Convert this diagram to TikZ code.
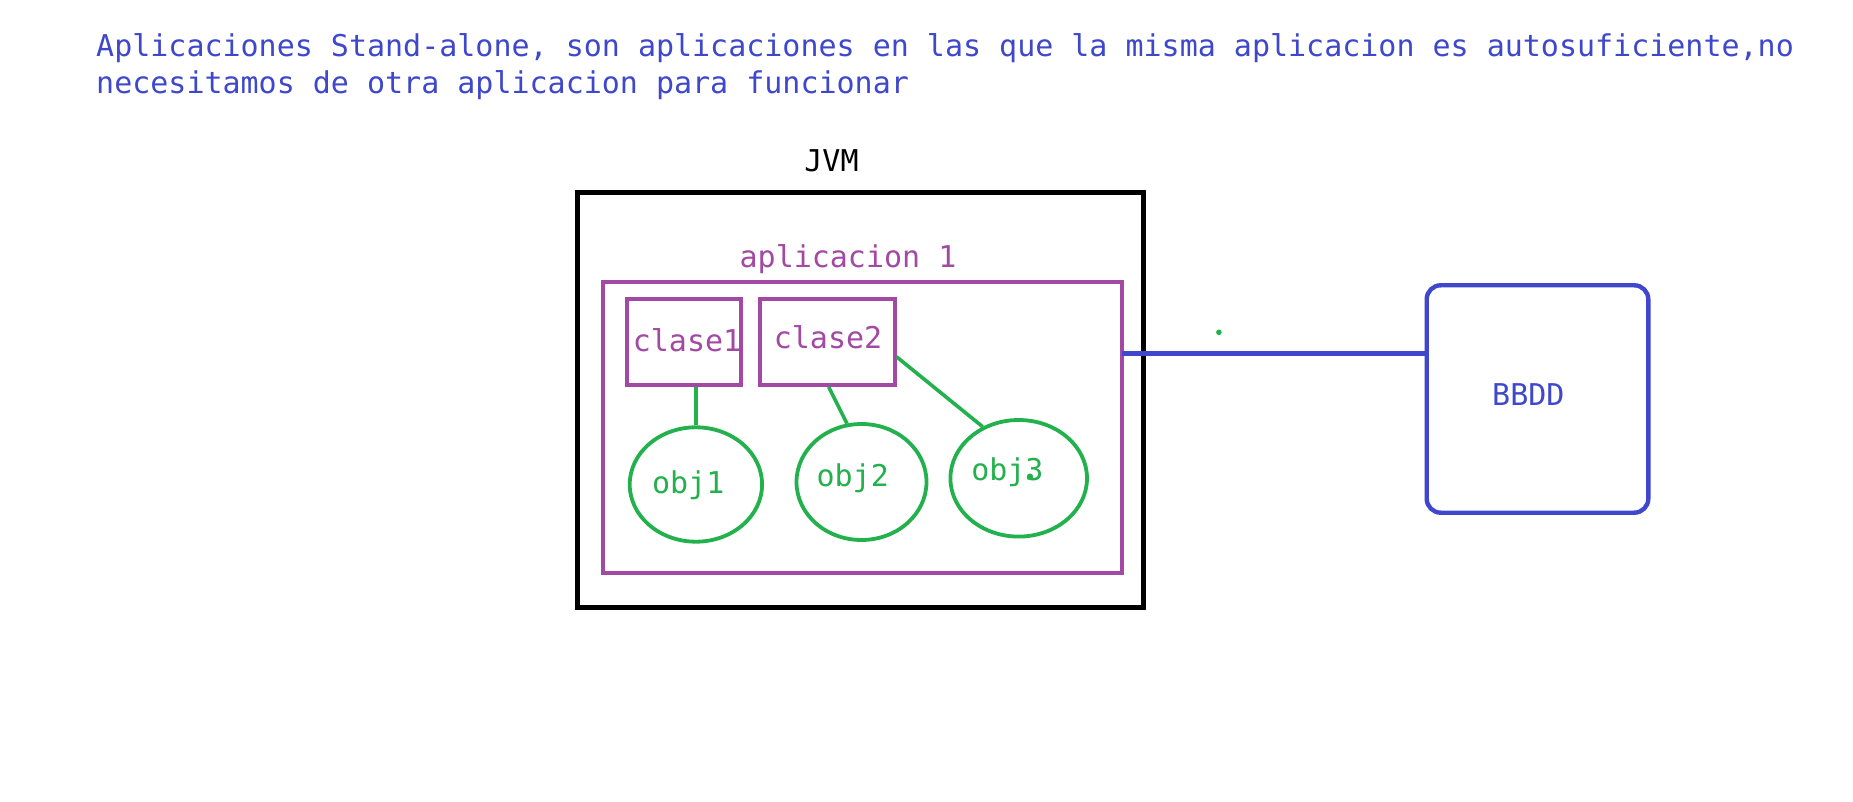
\documentclass[tikz,border=0pt]{standalone}
\usepackage{fontspec}
\setmonofont{DejaVu Sans Mono}
\usetikzlibrary{shapes.geometric}
\definecolor{bluep}{RGB}{63,72,204}
\definecolor{purplep}{RGB}{163,73,164}
\definecolor{greenp}{RGB}{34,177,76}
\tikzset{
  txt/.style={font=\ttfamily\fontsize{30}{36}\selectfont, inner sep=0pt, anchor=base},
  jvmbox/.style={draw=black, line width=4.6pt, rectangle, inner sep=0pt},
  appbox/.style={draw=purplep, line width=4pt, rectangle, inner sep=0pt},
  objell/.style={draw=greenp, line width=3.8pt, ellipse, inner sep=0pt},
  dbbox/.style={draw=bluep, line width=4.4pt, rectangle, rounded corners=14pt, inner sep=0pt},
  glink/.style={draw=greenp, line width=3.6pt},
  blink/.style={draw=bluep, line width=4.4pt}
}
\begin{document}
\begin{tikzpicture}[x=1pt,y=-1pt]
\useasboundingbox (0,0) rectangle (1853,802);
\fill[white] (0,0) rectangle (1853,802);
% title
\node[txt, anchor=base west, text=bluep] (title1) at (96,56.7) {Aplicaciones Stand-alone, son aplicaciones en las que la misma aplicacion es autosuficiente,no};
\node[txt, anchor=base west, text=bluep] (title2) at (96,93.3) {necesitamos de otra aplicacion para funcionar};
% JVM
\node[jvmbox, minimum width=566.4pt, minimum height=415pt] (jvm) at (860.4,400.2) {};
\node[txt, text=black] (jvmlbl) at (831.5,171.7) {JVM};
% aplicacion 1
\node[appbox, minimum width=518.9pt, minimum height=291.6pt] (app) at (862.35,427.5) {};
\node[txt, text=purplep] (applbl) at (848,267.7) {aplicacion 1};
% classes
\node[appbox, minimum width=114pt, minimum height=86pt] (clase1) at (684.4,342) {};
\node[txt, text=purplep] (clase1lbl) at (687,351.7) {clase1};
\node[appbox, minimum width=134.7pt, minimum height=86pt] (clase2) at (827.15,342) {};
\node[txt, text=purplep] (clase2lbl) at (828,348.3) {clase2};
% objects
\node[objell, minimum width=132.4pt, minimum height=114.4pt] (obj1) at (695.9,484.5) {};
\node[txt, text=greenp] (obj1lbl) at (688.2,493.3) {obj1};
\node[objell, minimum width=130pt, minimum height=116pt] (obj2) at (861.5,482) {};
\node[txt, text=greenp] (obj2lbl) at (852.7,486.7) {obj2};
\node[objell, minimum width=136.6pt, minimum height=116.6pt] (obj3) at (1018.7,478.3) {};
\node[txt, text=greenp] (obj3lbl) at (1007.4,480.7) {obj3};
\fill[greenp] (1030,476.7) circle (3.2pt);
% connectors
\draw[glink] (clase1.south -| obj1.north) -- (obj1.north);
\draw[glink] (clase2.-88) -- (obj2.104);
\draw[glink] (clase2.-12) -- (obj3.125);
% BBDD
\node[dbbox, minimum width=221.6pt, minimum height=227.4pt] (bbdd) at (1537.5,399) {};
\node[txt, text=bluep] (bbddlbl) at (1528.3,405) {BBDD};
\coordinate (link) at (1121.8,353.3);
\draw[blink] (link) -- (link -| bbdd.west);
\fill[greenp] (1218.9,332.3) circle (2.8pt);
\end{tikzpicture}
\end{document}
